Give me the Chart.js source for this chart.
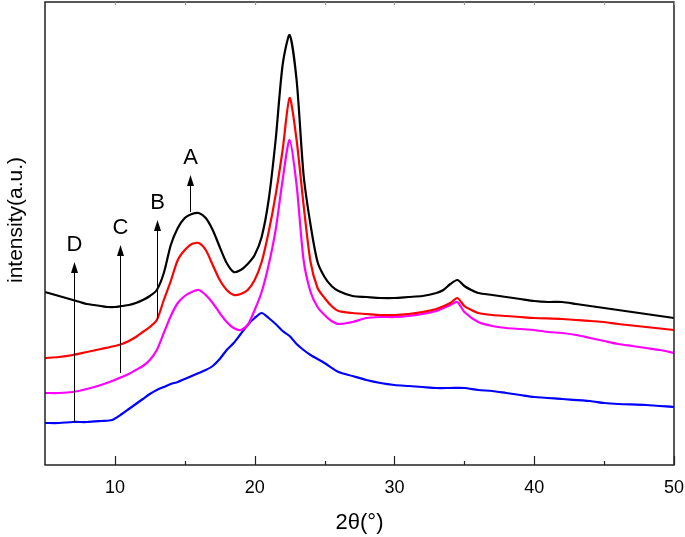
<!DOCTYPE html>
<html>
<head>
<meta charset="utf-8">
<script src="https://cdn.jsdelivr.net/npm/chart.js@4.4.0/dist/chart.umd.min.js"></script>
<style>
	body { margin: 0; background: #fff; }
	#wrap { width: 685px; height: 537px; }
</style>
</head>
<body>
<div id="wrap"><canvas id="xrdChart"></canvas></div>
<script>
// 2θ positions and intensity (a.u.)
var blackX = [5, 5.5, 6, 6.5, 7, 7.5, 8, 8.5, 9, 9.5, 10, 10.5, 11, 11.5, 12, 12.5, 13, 13.5, 14, 14.5, 15, 15.5, 16, 16.5, 17, 17.5, 18, 18.5, 19, 19.5, 20, 20.5, 21, 21.5, 22, 22.5, 23, 23.5, 24, 24.5, 25, 25.5, 26, 27, 28, 29, 30, 31, 32, 33, 33.5, 34, 34.5, 35, 35.5, 36, 37, 38, 39, 40, 41, 42, 43, 44, 45, 46, 47, 48, 49, 50];
var blackY = [173, 171, 169, 167, 165, 163, 161, 160, 159, 158, 158, 159, 160, 162, 165, 169, 175, 192, 220, 237, 247, 251, 252, 247, 235, 218, 202, 193, 195, 201, 210, 228, 265, 325, 400, 430, 385, 290, 240, 203, 188, 179, 174, 169, 168, 167, 167, 168, 169, 172, 175, 181, 185, 179, 175, 172, 170, 168, 166, 164, 163, 163, 161, 159, 157, 155, 153, 151, 149, 147];

var redX = [5, 6, 7, 8, 9, 10, 10.5, 11, 11.5, 12, 12.5, 13, 13.5, 14, 14.5, 15, 15.5, 16, 16.5, 17, 17.5, 18, 18.5, 19, 19.5, 20, 20.5, 21, 21.5, 22, 22.5, 23, 23.5, 24, 24.5, 25, 25.5, 26, 27, 28, 29, 30, 31, 32, 33, 34, 34.5, 35, 35.5, 36, 37, 38, 39, 40, 42, 44, 45, 46, 48, 50];
var redY = [107, 108, 110, 113, 116, 119, 121, 124, 128, 133, 138, 145, 165, 184, 205, 215, 221, 222, 215, 200, 185, 175, 170, 171, 175, 185, 203, 233, 270, 315, 367, 325, 260, 203, 177, 167, 159, 154, 152, 151, 150, 150, 151, 153, 156, 162, 167, 159, 155, 152, 150, 149, 148, 147, 146, 144, 143, 141, 138, 135];

var magentaX = [5, 6, 7, 8, 9, 10, 10.5, 11, 11.5, 12, 12.5, 13, 13.5, 14, 14.5, 15, 15.5, 16, 16.5, 17, 17.5, 18, 18.5, 19, 19.5, 20, 20.5, 21, 21.5, 22, 22.5, 23, 23.5, 24, 24.5, 25, 25.5, 26, 27, 28, 29, 30, 31, 32, 33, 34, 34.5, 35, 36, 37, 38, 39, 40, 41, 42, 43, 44, 45, 46, 47, 48, 49, 50];
var magentaY = [72, 72, 73, 76, 80, 85, 88, 91, 95, 99, 105, 115, 132, 149, 162, 169, 173, 175, 170, 162, 152, 143, 137, 135, 140, 155, 173, 200, 235, 285, 325, 280, 205, 173, 158, 150, 144, 141, 143, 147, 148, 148, 149, 151, 154, 160, 163, 153, 143, 139, 137, 136, 135, 133, 132, 130, 127, 124, 121, 119, 117, 115, 112];

var blueX = [5, 6, 7, 8, 9, 9.8, 10.5, 11, 11.5, 12, 12.5, 13, 13.5, 14, 14.5, 15, 15.5, 16, 16.5, 17, 17.5, 18, 18.5, 19, 19.5, 20, 20.5, 21, 21.5, 22, 22.5, 23, 23.5, 24, 25, 26, 27, 28, 29, 30, 31, 32, 33, 34, 35, 36, 37, 38, 39, 40, 42, 44, 45, 46, 48, 50];
var blueY = [42, 42, 43, 43, 44, 45, 51, 56, 61, 66, 71, 75, 78, 81, 83, 86, 89, 92, 95, 99, 106, 115, 122, 131, 140, 147, 152, 147, 141, 134, 129, 121, 115, 110, 102, 93, 89, 85, 82, 80, 79, 78, 77, 77, 77, 75, 74, 72, 70, 68, 66, 64, 62, 61, 60, 58];

// arrows marking the curves
var arrowLabels = ['A', 'B', 'C', 'D'];
var arrowX = [15.4, 13.0, 10.4, 7.1];
var arrowFrom = [253, 145, 92, 43];
var arrowTo = [290, 245, 220, 203];

var xTicks = [10, 20, 30, 40, 50];

var fontFamily = '"Liberation Sans", Arial, sans-serif';

function toPoints(xs, ys) {
	var pts = [];
	for (var i = 0; i < xs.length; i++) {
		pts.push({ x: xs[i], y: ys[i] });
	}
	return pts;
}

function lineSet(label, xs, ys, color) {
	return {
		label: label,
		data: toPoints(xs, ys),
		borderColor: color,
		backgroundColor: color,
		borderWidth: 2.2,
		pointRadius: 0,
		tension: 0.25
	};
}

// frame, inward ticks, y title and the labelled arrows
var framePlugin = {
	id: 'frame',
	afterDatasetsDraw: function(chart) {
		var c = chart.ctx;
		var a = chart.chartArea;
		var xs = chart.scales.x;
		var ys = chart.scales.y;

		c.save();
		c.strokeStyle = '#222';
		c.lineWidth = 1.5;
		c.strokeRect(a.left, a.top, a.right - a.left, a.bottom - a.top);

		c.lineWidth = 1.2;
		for (var v = 10; v <= 50; v += 5) {
			var px = Math.round(xs.getPixelForValue(v)) + 0.5;
			var len = (v % 10 === 0) ? 9 : 4;
			c.beginPath();
			c.moveTo(px, a.bottom);
			c.lineTo(px, a.bottom - len);
			c.stroke();
			c.strokeStyle = '#999';
			c.beginPath();
			c.moveTo(px, a.top);
			c.lineTo(px, a.top + 3);
			c.stroke();
			c.strokeStyle = '#222';
		}

		// y title sits a little above the middle of the axis
		c.save();
		c.translate(16, 220);
		c.rotate(-Math.PI / 2);
		c.fillStyle = '#000';
		c.font = '21px ' + fontFamily;
		c.textAlign = 'center';
		c.textBaseline = 'middle';
		c.fillText('intensity(a.u.)', 0, 0);
		c.restore();

		c.strokeStyle = '#000';
		c.fillStyle = '#000';
		c.lineWidth = 1;
		c.font = '22px ' + fontFamily;
		c.textAlign = 'center';
		c.textBaseline = 'middle';
		for (var i = 0; i < arrowLabels.length; i++) {
			var ax = Math.round(xs.getPixelForValue(arrowX[i])) + 0.5;
			var y0 = ys.getPixelForValue(arrowFrom[i]);
			var y1 = ys.getPixelForValue(arrowTo[i]);
			c.beginPath();
			c.moveTo(ax, y0);
			c.lineTo(ax, y1 + 8);
			c.stroke();
			c.beginPath();
			c.moveTo(ax, y1);
			c.lineTo(ax - 3.5, y1 + 11);
			c.lineTo(ax + 3.5, y1 + 11);
			c.closePath();
			c.fill();
			c.fillText(arrowLabels[i], ax, y1 - 17);
		}
		c.restore();
	}
};

var ctx = document.getElementById('xrdChart');

var chart = new Chart(ctx, {
	type: 'line',
	data: {
		datasets: [
			lineSet('A', blackX, blackY, '#000000'),
			lineSet('B', redX, redY, '#ff0000'),
			lineSet('C', magentaX, magentaY, '#ff00ff'),
			lineSet('D', blueX, blueY, '#0000ff')
		]
	},
	options: {
		responsive: true,
		maintainAspectRatio: false,
		animation: false,
		layout: { padding: { top: 2, right: 11, left: 0, bottom: 0 } },
		plugins: {
			legend: { display: false },
			tooltip: { enabled: false }
		},
		scales: {
			x: {
				type: 'linear',
				min: 5,
				max: 50,
				afterFit: function(scale) { scale.height = 72; },
				afterBuildTicks: function(scale) {
					scale.ticks = xTicks.map(function(v) { return { value: v }; });
				},
				grid: { display: false, drawTicks: true, tickLength: 12 },
				border: { display: false },
				ticks: {
					padding: 0,
					color: '#000',
					maxRotation: 0,
					font: { size: 18, family: fontFamily }
				},
				title: {
					display: true,
					text: '2θ(°)',
					color: '#000',
					padding: { top: 2, bottom: 1 },
					font: { size: 22, family: fontFamily }
				}
			},
			y: {
				min: 0,
				max: 463,
				afterFit: function(scale) { scale.width = 45; },
				grid: { display: false, drawTicks: false },
				border: { display: false },
				ticks: { display: false },
				title: { display: false }
			}
		}
	},
	plugins: [framePlugin]
});
</script>
</body>
</html>
